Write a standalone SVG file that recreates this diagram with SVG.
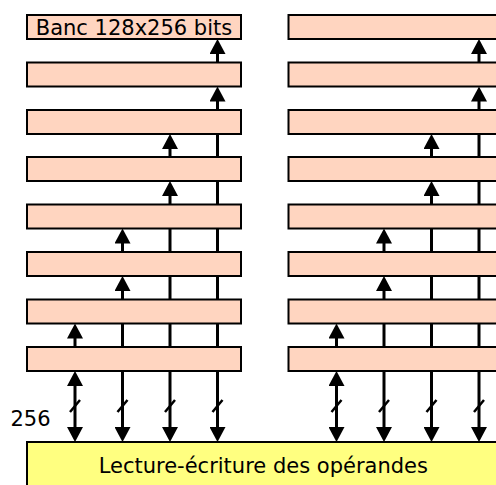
<svg xmlns="http://www.w3.org/2000/svg" width="496" height="485" viewBox="0 0 496 485">
<style>
.bank{fill:#ffd5c0;stroke:#000;stroke-width:2}
.io{fill:#ffff80;stroke:#000;stroke-width:2}
.c{stroke:#000;stroke-width:3;fill:none}
.a{marker-end:url(#ah)}
.d{marker-start:url(#ah);marker-end:url(#ah)}
.s{stroke:#000;stroke-width:2.5;fill:none}
text{font-family:"DejaVu Sans",sans-serif;font-size:21px;fill:#000}
</style>
<defs>
<marker id="ah" viewBox="0 0 15 16" markerWidth="15" markerHeight="16" refX="2" refY="8" orient="auto-start-reverse" markerUnits="userSpaceOnUse"><path d="M0,0 L15,8 L0,16 z" fill="#000"/></marker>
</defs>
<g id="connectors">
<path class="c d" d="M75,384 L75,429"/>
<path class="c a" d="M75,347 L75,336.5"/>
<path class="c d" d="M122.5,429 L122.5,289"/>
<path class="c a" d="M122.5,252 L122.5,241.5"/>
<path class="c d" d="M170,429 L170,194"/>
<path class="c a" d="M170,157 L170,147"/>
<path class="c d" d="M217.5,429 L217.5,99.5"/>
<path class="c a" d="M217.5,62.5 L217.5,52"/>
<path class="c d" d="M336.5,384 L336.5,429"/>
<path class="c a" d="M336.5,347 L336.5,336.5"/>
<path class="c d" d="M384,429 L384,289"/>
<path class="c a" d="M384,252 L384,241.5"/>
<path class="c d" d="M431.5,429 L431.5,194"/>
<path class="c a" d="M431.5,157 L431.5,147"/>
<path class="c d" d="M479,429 L479,99.5"/>
<path class="c a" d="M479,62.5 L479,52"/>
<path class="s" d="M70,412 L80,400 M117.5,412 L127.5,400 M165,412 L175,400 M212.5,412 L222.5,400 M331.5,412 L341.5,400 M379,412 L389,400 M426.5,412 L436.5,400 M474,412 L484,400"/>
</g>
<g id="bank-left">
<rect class="bank" x="27" y="15" width="214" height="24"/>
<rect class="bank" x="27" y="62.5" width="214" height="24"/>
<rect class="bank" x="27" y="110" width="214" height="24"/>
<rect class="bank" x="27" y="157" width="214" height="24"/>
<rect class="bank" x="27" y="204.5" width="214" height="24"/>
<rect class="bank" x="27" y="252" width="214" height="24"/>
<rect class="bank" x="27" y="299.5" width="214" height="24"/>
<rect class="bank" x="27" y="347" width="214" height="24"/>
<text x="134" y="34.5" text-anchor="middle">Banc 128x256 bits</text>
</g>
<g id="bank-right">
<rect class="bank" x="288.5" y="15" width="214" height="24"/>
<rect class="bank" x="288.5" y="62.5" width="214" height="24"/>
<rect class="bank" x="288.5" y="110" width="214" height="24"/>
<rect class="bank" x="288.5" y="157" width="214" height="24"/>
<rect class="bank" x="288.5" y="204.5" width="214" height="24"/>
<rect class="bank" x="288.5" y="252" width="214" height="24"/>
<rect class="bank" x="288.5" y="299.5" width="214" height="24"/>
<rect class="bank" x="288.5" y="347" width="214" height="24"/>
</g>
<g id="operands">
<rect class="io" x="27" y="442" width="480" height="60"/>
<text x="263.3" y="473" text-anchor="middle">Lecture-écriture des opérandes</text>
</g>
<g id="width-label">
<text x="30.5" y="426" text-anchor="middle">256</text>
</g>
</svg>
